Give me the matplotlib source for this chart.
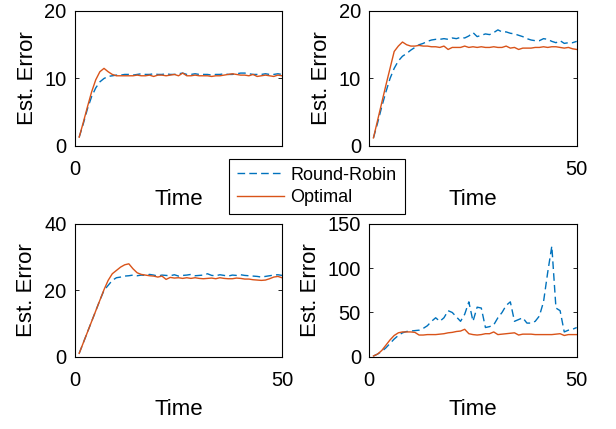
import matplotlib.pyplot as plt
import numpy as np

plt.rcParams['font.family'] = ['Liberation Sans', 'DejaVu Sans']

t = np.arange(1, 51)

# panel 1 (top left)
rr1 = [1.3, 3.3, 5.5, 7.3, 8.6, 9.5, 10.0, 10.3, 10.4, 10.5,
       10.5, 10.6, 10.6, 10.5, 10.6, 10.7, 10.6, 10.6, 10.7, 10.6,
       10.6, 10.7, 10.6, 10.6, 10.7, 10.8, 10.6, 10.6, 10.7, 10.6,
       10.6, 10.6, 10.5, 10.6, 10.6, 10.7, 10.6, 10.6, 10.7, 10.8,
       10.8, 10.7, 10.6, 10.6, 10.6, 10.7, 10.6, 10.6, 10.7, 10.6]
op1 = [1.3, 3.5, 5.8, 8.0, 9.8, 11.0, 11.5, 11.0, 10.6, 10.4,
       10.4, 10.4, 10.4, 10.4, 10.5, 10.4, 10.4, 10.5, 10.3, 10.5,
       10.5, 10.4, 10.5, 10.6, 10.4, 10.8, 10.4, 10.4, 10.5, 10.4,
       10.4, 10.4, 10.3, 10.4, 10.4, 10.5, 10.6, 10.7, 10.6, 10.5,
       10.5, 10.4, 10.6, 10.3, 10.4, 10.5, 10.4, 10.3, 10.5, 10.4]

# panel 2 (top right)
rr2 = [1.2, 3.4, 5.8, 8.0, 10.0, 11.5, 12.6, 13.3, 13.7, 14.2,
       14.6, 15.0, 15.2, 15.5, 15.7, 15.8, 15.8, 15.9, 15.8, 16.0,
       15.9, 16.1, 16.0, 16.3, 16.8, 16.2, 16.4, 16.6, 16.5, 16.8,
       17.2, 16.9, 16.9, 16.7, 16.6, 16.4, 16.2, 15.9, 15.7, 15.6,
       15.6, 15.9, 15.8, 15.5, 15.3, 15.6, 15.2, 15.3, 15.3, 15.5]
op2 = [1.2, 3.8, 6.4, 9.0, 11.5, 14.0, 14.8, 15.4, 15.0, 14.8,
       14.8, 14.9, 14.8, 14.8, 14.7, 14.7, 14.6, 14.8, 14.3, 14.6,
       14.6, 14.6, 14.8, 14.6, 14.7, 14.6, 14.7, 14.6, 14.6, 14.7,
       14.6, 14.6, 14.8, 14.5, 14.6, 14.3, 14.5, 14.5, 14.5, 14.6,
       14.6, 14.7, 14.6, 14.7, 14.7, 14.6, 14.5, 14.6, 14.4, 14.3]

# panel 3 (bottom left)
rr3 = [1.0, 4.2, 7.4, 10.6, 13.8, 17.0, 20.0, 21.5, 23.0, 23.8,
       24.0, 24.3, 24.4, 24.6, 24.4, 24.6, 24.5, 24.8, 24.6, 24.3,
       24.6, 24.5, 24.4, 24.7, 24.3, 24.5, 24.6, 24.8, 24.4, 24.5,
       24.6, 25.0, 24.5, 24.4, 24.7, 24.5, 24.3, 24.6, 24.5, 24.7,
       24.5, 24.4, 24.3, 24.2, 24.0, 24.2, 24.4, 24.6, 24.7, 24.5]
op3 = [1.0, 4.2, 7.4, 10.6, 13.8, 17.0, 20.2, 23.0, 25.0, 26.0,
       27.0, 27.7, 28.0, 26.5, 25.3, 24.8, 24.6, 24.4, 24.3, 24.0,
       24.3, 23.3, 23.9, 23.7, 23.8, 23.6, 23.8, 23.6, 23.8, 23.6,
       23.5, 23.6, 23.7, 23.5, 23.8, 23.6, 23.5, 23.5, 23.7, 23.6,
       23.4, 23.4, 23.2, 23.1, 23.0, 23.1, 23.5, 24.0, 24.2, 23.8]

# panel 4 (bottom right)
rr4 = [0.8, 3, 6, 10, 15, 20, 24, 27, 28.5, 29,
       29.5, 30, 32, 35, 40, 44, 40, 44, 52, 50,
       45, 40, 48, 62, 40, 56, 55, 33, 34, 36,
       44, 50, 58, 62, 40, 42, 44, 38, 38, 40,
       46, 62, 95, 125, 55, 52, 28, 30, 31, 33]
op4 = [0.8, 3, 7, 13, 19, 24, 27, 28, 28, 28,
       27.5, 24.5, 24.5, 25, 25, 25, 25.5, 26, 27, 27.5,
       28.5, 29, 31, 26, 25, 24.5, 25, 26, 26, 28,
       25, 25.5, 26, 26.5, 27, 24.5, 25.5, 25.5, 25.5, 25,
       25, 25, 25, 25, 25.5, 26, 24, 25, 25, 25]

# x tick labels hidden behind the legend in the top row are left blank
panels = [
    (rr1, op1, 20, [0, 10, 20], ['0', '']),
    (rr2, op2, 20, [0, 10, 20], ['', '50']),
    (rr3, op3, 40, [0, 20, 40], ['0', '50']),
    (rr4, op4, 150, [0, 50, 100, 150], ['0', '50']),
]
positions = [
    [0.1218, 0.6597, 0.336, 0.3147],
    [0.5995, 0.6597, 0.3367, 0.3147],
    [0.1218, 0.1685, 0.336, 0.3094],
    [0.5995, 0.1685, 0.3367, 0.3094],
]

blue = '#0072BD'
orange = '#D95319'

fig = plt.figure(figsize=(6.16, 4.29), dpi=100)
for (rr, op, ymax, yt, xtl), pos in zip(panels, positions):
    ax = fig.add_axes(pos)
    l1, = ax.plot(t, rr, color=blue, lw=1.0, linestyle=(0, (5.5, 3)), label='Round-Robin')
    l2, = ax.plot(t, op, color=orange, lw=1.0, label='Optimal')
    ax.set_xlim(0, 50)
    ax.set_ylim(0, ymax)
    ax.set_xticks([0, 50])
    ax.set_xticklabels(xtl)
    ax.set_yticks(yt)
    ax.tick_params(direction='in', top=True, right=True, labelsize=14.5, length=3, width=0.6)
    ax.tick_params(axis='x', pad=10)
    ax.tick_params(axis='y', pad=6)
    ax.set_xlabel('Time', fontsize=16, labelpad=7)
    ax.set_ylabel('Est. Error', fontsize=16, labelpad=5)
    for s in ax.spines.values():
        s.set_linewidth(0.8)

leg = fig.legend([l1, l2], ['Round-Robin', 'Optimal'], loc='center',
                 bbox_to_anchor=(0.5146, 0.5653), fontsize=13, fancybox=False,
                 framealpha=1, edgecolor='black', handlelength=2.6,
                 borderpad=0.45, labelspacing=0.3, handletextpad=0.35,
                 borderaxespad=0)
leg.get_frame().set_linewidth(0.8)

fig.savefig('out.png', dpi=100)
